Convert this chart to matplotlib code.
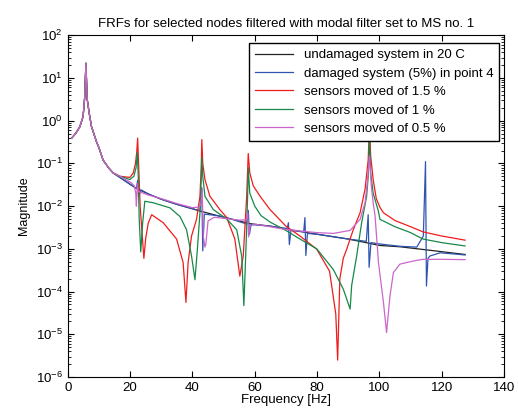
import matplotlib
matplotlib.use("Agg")
import matplotlib.pyplot as plt
import matplotlib.ticker as mticker

plt.rcParams['font.family'] = ['Liberation Sans', 'DejaVu Sans']
plt.rcParams['mathtext.default'] = 'regular'

# common low-frequency part (all curves coincide here)
f_common = [1.2, 2.5, 3.85, 4.9, 5.4, 5.8, 6.2, 6.85, 7.6, 9.2, 10.0, 11.3, 13.0, 14.5]
v_common = [0.39, 0.5, 0.72, 1.26, 3.5, 22, 3.2, 1.5, 0.72, 0.32, 0.23, 0.12, 0.08, 0.06]

# undamaged system
f_black = [16.7, 18.8, 22.0, 26.0, 30.0, 35.0, 42.4, 48.0, 52.0, 58.4, 65.0, 70.0, 80.0,
           90.0, 100.2, 106.6, 115.0, 127.5]
v_black = [0.047, 0.037, 0.026, 0.019, 0.0145, 0.011, 0.0077, 0.006, 0.0051, 0.0039, 0.0034,
           0.0029, 0.0022, 0.0017, 0.0012, 0.00112, 0.00095, 0.00074]

# damaged system (5%) in point 4
f_blue = [16.7, 18.8, 22.0, 22.4, 22.7, 23.5, 26.0, 30.0, 35.0, 42.4, 43.0, 43.3, 43.8, 48.0,
          52.0, 57.5, 57.9, 58.3, 58.8, 65.0, 70.4, 70.8, 71.1, 71.6, 75.7, 76.1, 76.4, 76.9,
          80.0, 90.0, 95.8, 96.4, 96.7, 97.3, 100.2, 106.6, 112.0, 114.1, 114.8, 115.1, 115.6,
          116.2, 119.5, 127.5]
v_blue = [0.047, 0.037, 0.026, 0.04, 0.017, 0.024, 0.019, 0.0145, 0.011, 0.0078, 0.027, 0.0009,
          0.0065, 0.006, 0.0051, 0.0038, 0.008, 0.0022, 0.0037, 0.0034, 0.003, 0.0041, 0.00126,
          0.0027, 0.0025, 0.0054, 0.0007, 0.0023, 0.0022, 0.0017, 0.0015, 0.0063, 0.00037,
          0.0014, 0.0013, 0.00115, 0.0011, 0.002, 0.11, 0.000135, 0.0006, 0.00068, 0.00081,
          0.00072]

# sensors moved of 1.5 %
f_red = [16.7, 19.9, 21.0, 21.7, 22.1, 22.4, 22.7, 23.2, 23.8, 24.4, 25.0, 25.8, 26.9, 30.6,
         34.9, 37.0, 37.9, 38.6, 39.7, 41.3, 42.4, 42.8, 43.0, 43.3, 44.0, 45.6, 48.8, 51.0,
         53.6, 55.2, 56.3, 57.4, 57.9, 58.4, 59.5, 61.7, 64.9, 70.0, 74.5, 79.9, 84.0, 86.0,
         86.6, 87.3, 88.4, 89.5, 91.6, 93.8, 95.4, 96.4, 96.8, 97.2, 98.0, 99.0, 100.2, 101.3,
         105.0, 110.0, 114.0, 120.0, 127.5]
v_red = [0.05, 0.047, 0.06, 0.1, 0.18, 0.39, 0.1, 0.01, 0.0025, 0.0006, 0.0018, 0.004, 0.0063,
         0.0041, 0.0017, 0.00048, 0.000056, 0.00048, 0.002, 0.0049, 0.017, 0.08, 0.36, 0.1,
         0.042, 0.017, 0.0083, 0.0054, 0.0017, 0.00023, 0.00068, 0.017, 0.17, 0.06, 0.03, 0.017,
         0.0083, 0.0034, 0.002, 0.00098, 0.0003, 0.00003, 0.0000025, 0.0002, 0.0006, 0.00098,
         0.0028, 0.007, 0.025, 0.12, 0.8, 0.15, 0.042, 0.015, 0.0093, 0.007, 0.0046, 0.0033,
         0.0025, 0.002, 0.0016]

# sensors moved of 1 %
f_green = [16.7, 19.9, 21.2, 21.9, 22.3, 22.6, 22.9, 23.4, 24.0, 24.7, 27.4, 32.8, 36.0, 38.1,
           39.7, 40.8, 41.5, 42.4, 42.8, 43.0, 43.3, 44.0, 46.7, 51.0, 54.2, 55.8, 56.5, 57.2,
           57.7, 57.9, 58.4, 60.0, 62.0, 65.0, 70.0, 74.5, 79.9, 85.2, 88.4, 90.6, 91.1, 92.7,
           94.3, 95.9, 96.5, 96.8, 97.2, 98.0, 99.6, 100.2, 105.0, 110.0, 114.0, 120.0, 127.5]
v_green = [0.05, 0.042, 0.05, 0.08, 0.18, 0.05, 0.005, 0.00085, 0.004, 0.013, 0.012, 0.0091,
           0.0057, 0.0028, 0.00068, 0.00019, 0.00083, 0.007, 0.04, 0.14, 0.05, 0.017, 0.0083,
           0.005, 0.0028, 0.00068, 0.000047, 0.0012, 0.017, 0.08, 0.02, 0.01, 0.006, 0.0042,
           0.0027, 0.0017, 0.001, 0.00033, 0.000115, 0.000039, 0.00014, 0.00068, 0.0041, 0.017,
           0.06, 0.45, 0.06, 0.02, 0.008, 0.0049, 0.0033, 0.0024, 0.0017, 0.0014, 0.00117]

# sensors moved of 0.5 %
f_mag = [16.7, 19.0, 20.4, 21.3, 21.8, 22.0, 22.3, 22.6, 23.5, 26.0, 30.0, 35.0, 40.0, 42.0,
         42.7, 43.1, 43.5, 44.0, 44.3, 45.0, 47.0, 50.0, 55.0, 57.2, 57.7, 58.0, 58.5, 59.5,
         62.0, 69.2, 75.0, 80.0, 85.2, 90.6, 93.8, 95.4, 96.2, 96.8, 97.4, 98.0, 98.6, 99.7,
         101.3, 102.3, 103.4, 104.5, 106.6, 110.9, 114.0, 120.0, 127.5]
v_mag = [0.05, 0.04, 0.035, 0.03, 0.02, 0.01, 0.034, 0.022, 0.021, 0.018, 0.015, 0.0115, 0.0092,
         0.0095, 0.011, 0.025, 0.0019, 0.0011, 0.0013, 0.0045, 0.0055, 0.0052, 0.0047, 0.0048,
         0.007, 0.0019, 0.0033, 0.0038, 0.0036, 0.0029, 0.0026, 0.0024, 0.0023, 0.0027, 0.0049,
         0.012, 0.04, 0.15, 0.03, 0.012, 0.006, 0.00048, 0.000056, 0.000011, 0.00008, 0.00028,
         0.00044, 0.00052, 0.00057, 0.00057, 0.00056]

labels = ["undamaged system in 20 C", "damaged system (5%) in point 4",
          "sensors moved of 1.5 %", "sensors moved of 1 %", "sensors moved of 0.5 %"]
colors = ["#222222", "#2f55b0", "#f01c1c", "#17884a", "#cc66cc"]

series = [(f_black, v_black), (f_blue, v_blue), (f_red, v_red), (f_green, v_green), (f_mag, v_mag)]

fig = plt.figure(figsize=(5.18, 4.09), dpi=100)
ax = fig.add_axes([0.131, 0.078, 0.842, 0.836])

for (f, v), lab, col in zip(series, labels, colors):
    ax.plot(f_common + f, v_common + v, color=col, linewidth=0.9, label=lab)

ax.set_yscale("log")
ax.set_xlim(0, 140)
ax.set_ylim(1e-6, 1e2)
ax.set_xticks([0, 20, 40, 60, 80, 100, 120, 140])
ax.yaxis.set_major_locator(mticker.LogLocator(base=10, numticks=20))
ax.yaxis.set_minor_locator(mticker.LogLocator(base=10, subs=range(2, 10), numticks=20))
ax.yaxis.set_minor_formatter(mticker.NullFormatter())

ax.tick_params(which="both", direction="in", top=True, right=True, labelsize=9.5)
ax.tick_params(which="major", length=4)
ax.tick_params(which="minor", length=2)

ax.set_title("FRFs for selected nodes filtered with modal filter set to MS no. 1",
             fontsize=9.5, pad=6)
ax.set_xlabel("Frequency [Hz]", fontsize=9.5, labelpad=0)
ax.set_ylabel("Magnitude", fontsize=9, labelpad=4)

leg = ax.legend(loc="upper right", bbox_to_anchor=(0.989, 0.977), borderaxespad=0,
                fancybox=False, framealpha=1, edgecolor="black", fontsize=9.5,
                handlelength=2.9, labelspacing=0.47, borderpad=0.45)
leg.get_frame().set_linewidth(1.0)

fig.savefig("out.png", dpi=100)
